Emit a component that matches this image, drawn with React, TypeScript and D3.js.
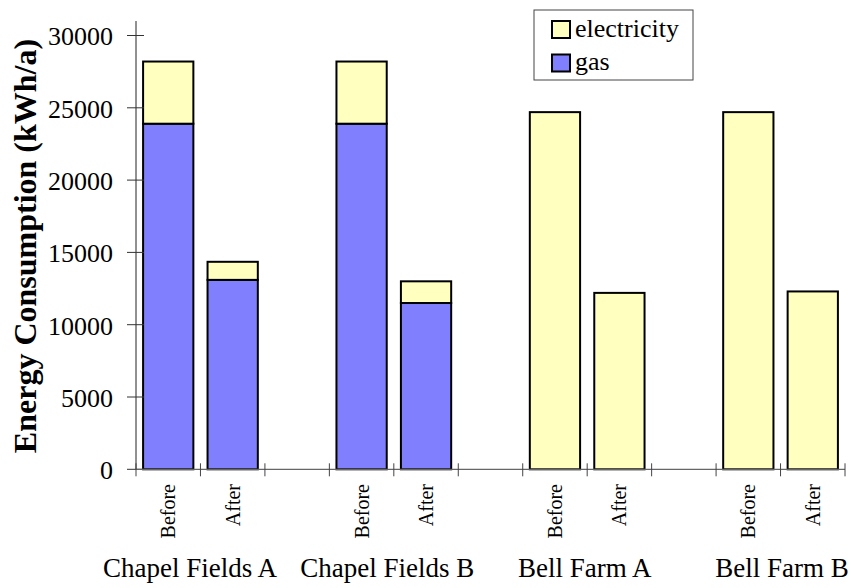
import React from "react";
import * as d3 from "d3";

const groups = ["Chapel Fields A", "Chapel Fields B", "Bell Farm A", "Bell Farm B"];
const periods = ["Before", "After"];
// values per bar in order: group x period
const gasValues = [23900, 13100, 23900, 11500, 0, 0, 0, 0];
const electricityValues = [4300, 1250, 4300, 1500, 24700, 12200, 24700, 12300];
const yTicks = [0, 5000, 10000, 15000, 20000, 25000, 30000];
const seriesNames = ["electricity", "gas"];

const W = 851;
const H = 588;
const FONT = "'Liberation Serif', 'Times New Roman', serif";
const COLORS: Record<string, string> = { gas: "#8080FF", electricity: "#FFFFC0" };

// slots: each group gets Before, After, then a blank spacer (except the last)
const slots: string[] = [];
groups.forEach((g, gi) => {
  periods.forEach((p) => slots.push(`${g}|${p}`));
  if (gi < groups.length - 1) slots.push(`${g}|gap`);
});

type Row = { key: string; group: string; period: string; gas: number; electricity: number };
const rows: Row[] = [];
groups.forEach((g, gi) => {
  periods.forEach((p, pi) => {
    const i = gi * periods.length + pi;
    rows.push({ key: `${g}|${p}`, group: g, period: p, gas: gasValues[i], electricity: electricityValues[i] });
  });
});

const txt = { fontFamily: FONT };

export default function App() {
  const x = d3.scaleBand<string>().domain(slots).range([136, 845]).paddingInner(0.22).paddingOuter(0.11);
  const y = d3.scaleLinear().domain([0, 30000]).range([469.3, 35.5]);
  const step = x.step();
  const x0 = 136;
  const boundaries = d3.range(slots.length + 1).map((i) => x0 + i * step);
  const groupX = d3.scalePoint<string>().domain(groups).range([190, 782]);

  const stack = d3.stack<Row>().keys(["gas", "electricity"]);
  const stacked = stack(rows);

  return (
    <svg width={W} height={H} style={{ position: "absolute", left: 0, top: 0, background: "#fff" }}>
      {/* bars */}
      {stacked.map((s) => (
        <g key={s.key}>
          {s.map((d) => {
            const h = y(d[0]) - y(d[1]);
            if (h <= 0.01) return null;
            return (
              <rect
                key={d.data.key}
                x={x(d.data.key)!}
                y={y(d[1])}
                width={x.bandwidth()}
                height={h}
                fill={COLORS[s.key]}
                stroke="#000"
                strokeWidth={2}
              />
            );
          })}
        </g>
      ))}

      {/* y axis */}
      <line x1={136} x2={136} y1={y(31000)} y2={y(0)} stroke="#222" strokeWidth={1} />
      {yTicks.map((t) => (
        <g key={t}>
          <line x1={127} x2={144} y1={y(t)} y2={y(t)} stroke="#333" strokeWidth={1} />
          <text x={113} y={y(t)} dy="0.38em" textAnchor="end" fontSize={26} fill="#000" style={txt}>
            {t}
          </text>
        </g>
      ))}

      {/* x axis */}
      <line x1={136} x2={boundaries[boundaries.length - 1]} y1={y(0)} y2={y(0)} stroke="#666" strokeWidth={1.2} />
      {boundaries.map((b, i) => (
        <line key={i} x1={b} x2={b} y1={y(0) - 6} y2={y(0) + 7} stroke="#444" strokeWidth={1} />
      ))}
      {rows.map((r) => (
        <text
          key={r.key}
          transform={`translate(${x(r.key)! + x.bandwidth() / 2},484) rotate(-90)`}
          dy="0.35em"
          textAnchor="end"
          fontSize={20}
          fill="#000"
          style={txt}
        >
          {r.period}
        </text>
      ))}
      {groups.map((g) => (
        <text key={g} x={groupX(g)} y={577} textAnchor="middle" fontSize={27} fill="#000" style={txt}>
          {g}
        </text>
      ))}

      {/* y title */}
      <text
        transform="translate(36,246) rotate(-90)"
        textAnchor="middle"
        fontSize={32}
        fontWeight="bold"
        fill="#000"
        style={txt}
      >
        Energy Consumption (kWh/a)
      </text>

      {/* legend */}
      <rect x={534} y={10} width={159} height={70} fill="#fff" stroke="#444" strokeWidth={1} />
      {seriesNames.map((s, i) => (
        <g key={s} transform={`translate(552,${21 + i * 33.5})`}>
          <rect x={0} y={0} width={18} height={17} fill={COLORS[s]} stroke="#000" strokeWidth={2} />
          <text x={23} y={15.5} fontSize={26} fill="#000" style={txt}>
            {s}
          </text>
        </g>
      ))}
    </svg>
  );
}
